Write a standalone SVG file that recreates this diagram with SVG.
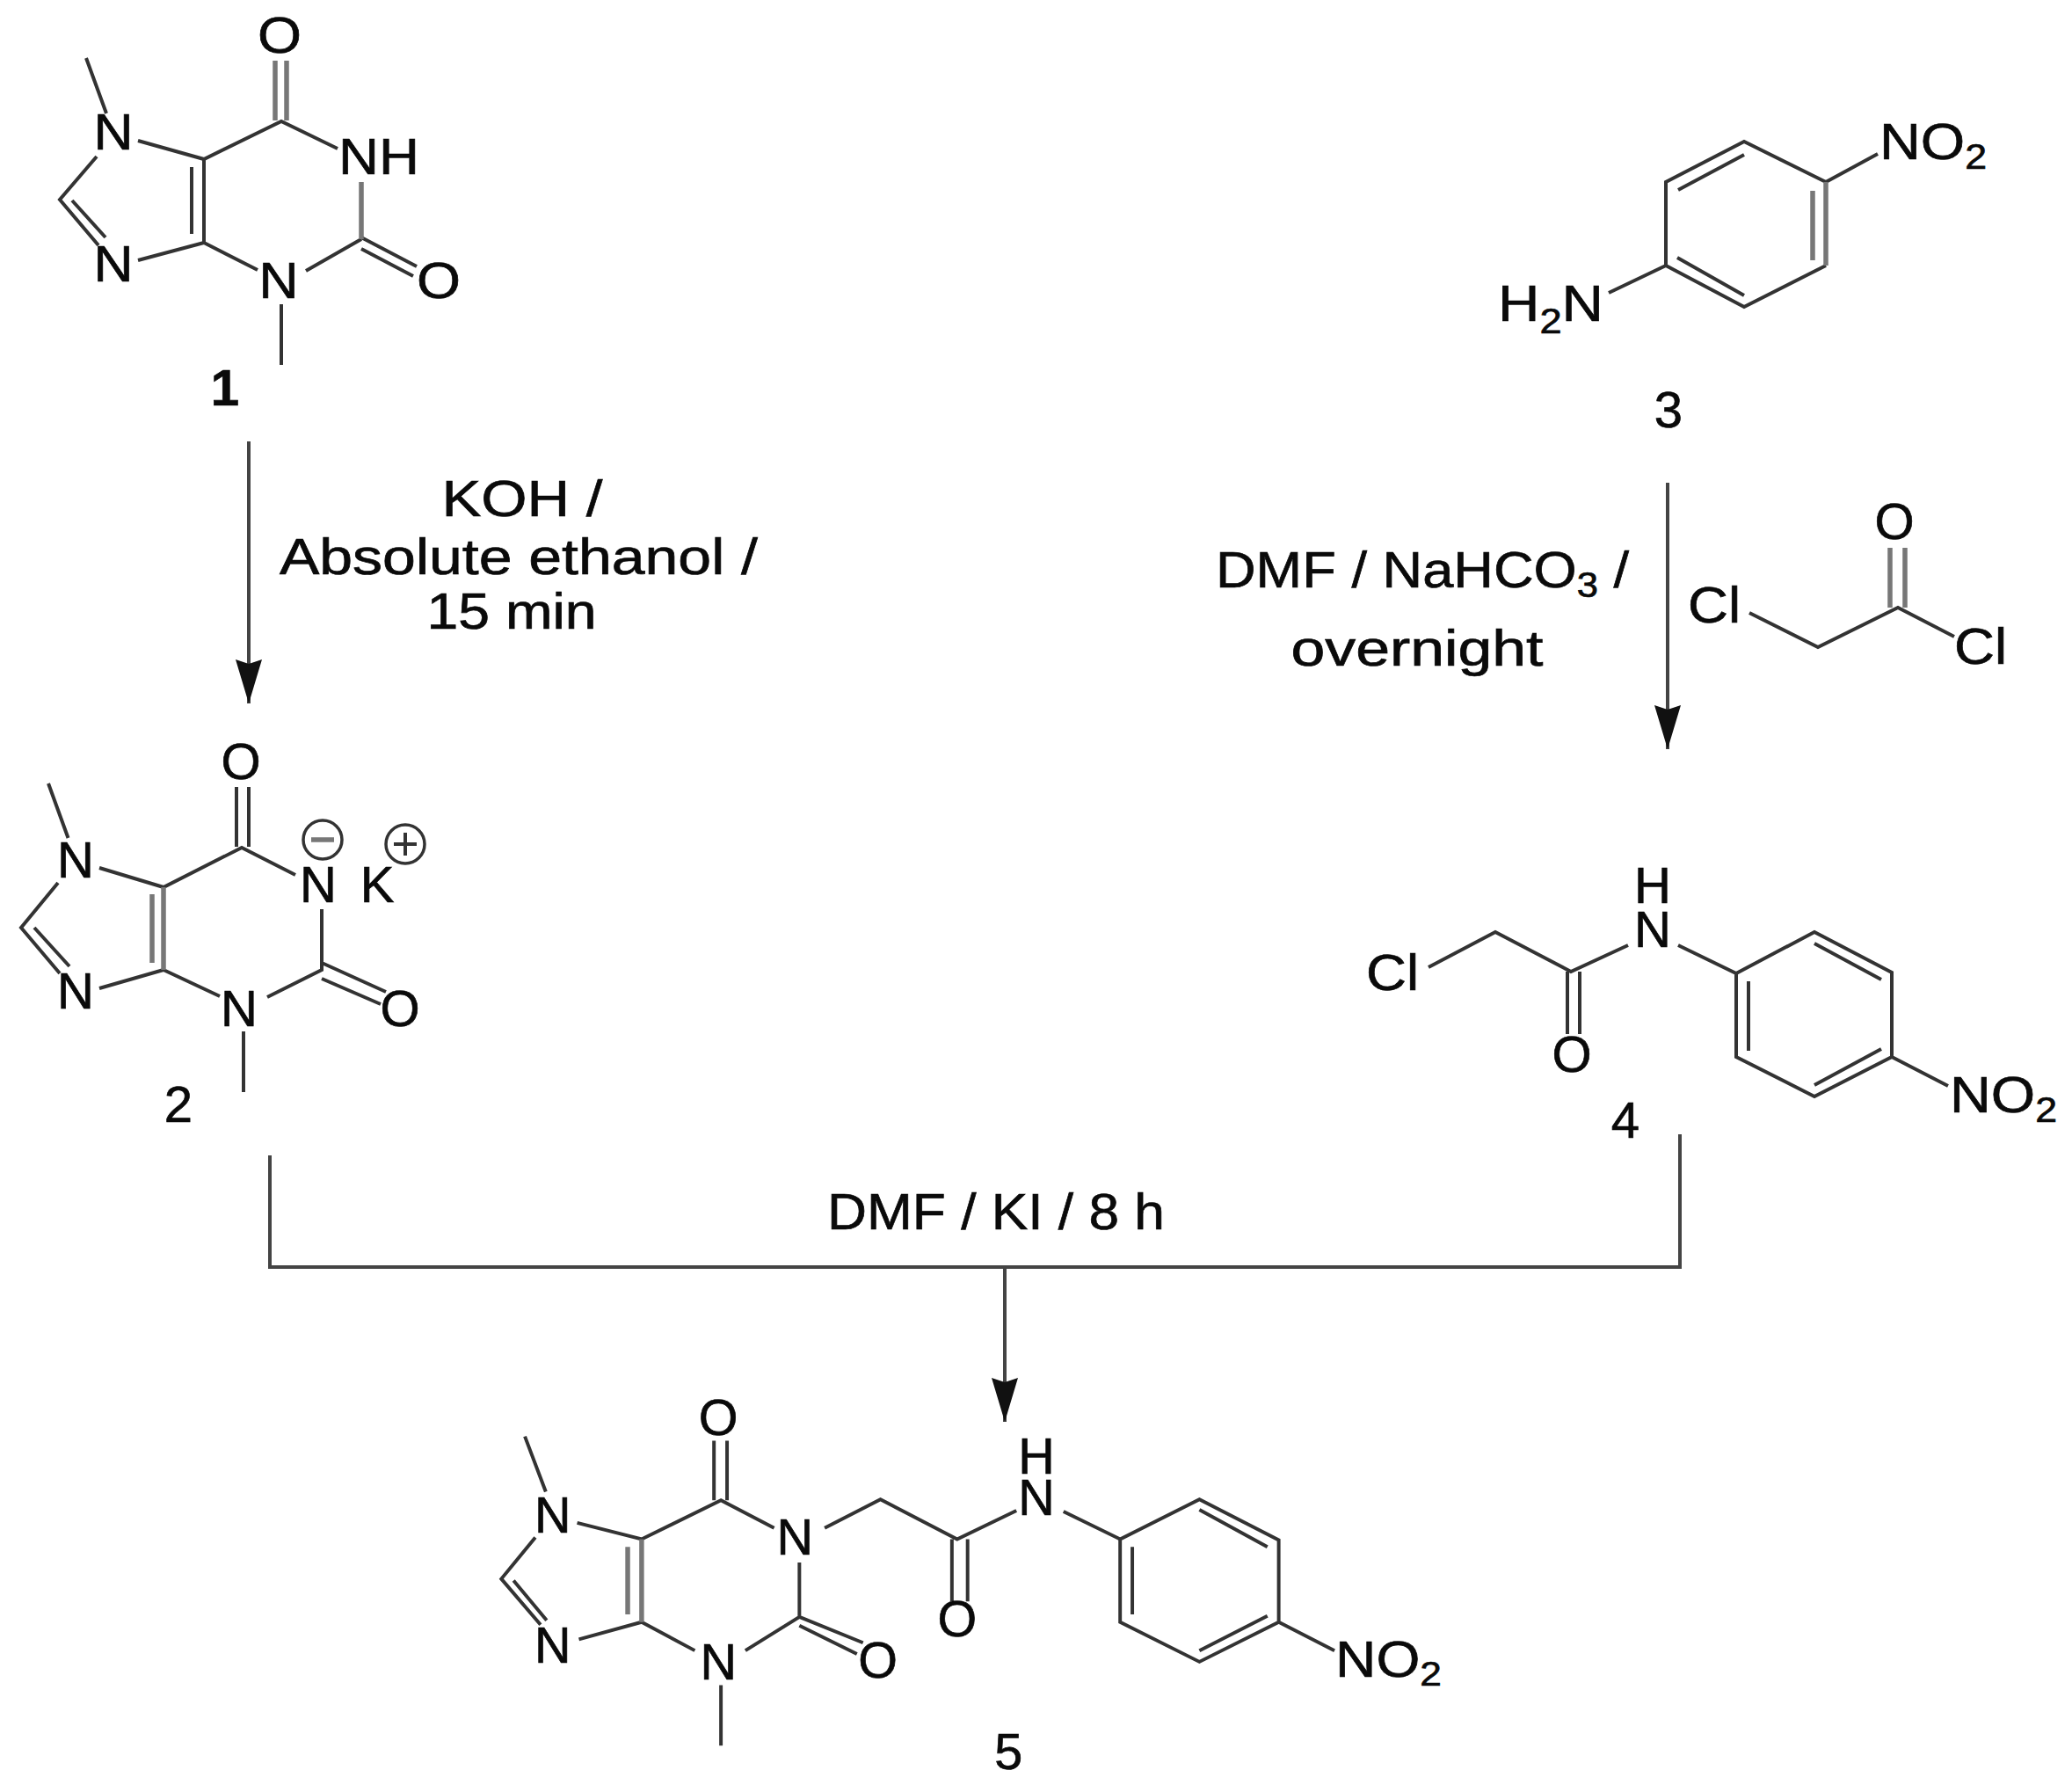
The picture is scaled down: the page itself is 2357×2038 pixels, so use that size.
<svg xmlns="http://www.w3.org/2000/svg" width="2357" height="2038" viewBox="0 0 2357 2038">
<style>
text{font-family:"Liberation Sans",Arial,sans-serif;fill:#0a0a0a;font-size:58px;stroke:#0a0a0a;stroke-width:.7}
.m{text-anchor:middle}
.sub{font-size:40px}
path{fill:none;stroke:#333;stroke-width:4;stroke-linejoin:miter}
.g{stroke:#777;stroke-width:5.500}
.c{stroke:#444;stroke-width:4}
circle{fill:none;stroke:#333;stroke-width:3.500}
</style>
<defs>
<marker id="ah" markerUnits="userSpaceOnUse" markerWidth="50" markerHeight="30" refX="50" refY="15" viewBox="0 0 50 30" orient="auto" overflow="visible"><path d="M0 0L5 15L0 30L50 15Z" style="fill:#111;stroke:none"/></marker>
</defs>
<rect width="2357" height="2038" fill="#fff"/>
<g id="connectors">
<path class="c" d="M283 502V800" marker-end="url(#ah)"/>
<path class="c" d="M1897 549V852" marker-end="url(#ah)"/>
<path class="c" d="M307 1314V1441H1911V1290"/>
<path class="c" d="M1143 1441V1617" marker-end="url(#ah)"/>
</g>
<g id="conditions">
<text class="m" x="594" y="587" textLength="183" lengthAdjust="spacingAndGlyphs">KOH /</text>
<text class="m" x="590" y="653" textLength="544" lengthAdjust="spacingAndGlyphs">Absolute ethanol /</text>
<text class="m" x="582" y="715" textLength="193" lengthAdjust="spacingAndGlyphs">15 min</text>
<text x="1383" y="668" textLength="470" lengthAdjust="spacingAndGlyphs">DMF / NaHCO<tspan class="sub" dy="11">3</tspan><tspan dy="-11"> /</tspan></text>
<text class="m" x="1612" y="757" textLength="287" lengthAdjust="spacingAndGlyphs">overnight</text>
<text class="m" x="1133" y="1398" textLength="384" lengthAdjust="spacingAndGlyphs">DMF / KI / 8 h</text>
</g>
<g id="compound-1">
<path d="M98 66L121 129M157 160L232 181L320 138L384 169M232 276L293 307M232 276L157 296M110 178L68 227L112 279M82 228L120 270M218 190V266M232 181V276M411 272L348 308M320 346V415M411 270L474 303M411 283L470 314"/>
<path class="g" d="M313 69V137M326 69V137M411 207V272"/>
<text class="m" x="318" y="60" textLength="50" lengthAdjust="spacingAndGlyphs">O</text>
<text class="m" x="129" y="170" textLength="45" lengthAdjust="spacingAndGlyphs">N</text>
<text class="m" x="431" y="198" textLength="92" lengthAdjust="spacingAndGlyphs">NH</text>
<text class="m" x="129" y="320" textLength="45" lengthAdjust="spacingAndGlyphs">N</text>
<text class="m" x="317" y="339" textLength="45" lengthAdjust="spacingAndGlyphs">N</text>
<text class="m" x="499" y="339" textLength="50" lengthAdjust="spacingAndGlyphs">O</text>
<text class="m" x="256" y="461" font-weight="bold">1</text>
</g>
<g id="compound-2" transform="translate(0,-6)">
<path d="M55 897L77.500 959M113 993L186 1015L275 970L336 1001M186 1109L250 1139M186 1109L113 1130M66 1010L24 1061L68 1113M39 1061L79 1105M366 1040V1109L304 1140M277 1179V1248M366 1101L439 1134M366 1119L433 1148M269 901V969M283 901V969"/>
<path class="g" d="M186 1015V1109M173 1023V1101"/>
<text class="m" x="274" y="892">O</text>
<text class="m" x="86" y="1004">N</text>
<text class="m" x="362" y="1032">N</text>
<text class="m" x="429" y="1032">K</text>
<text class="m" x="86" y="1153">N</text>
<text class="m" x="272" y="1173">N</text>
<text class="m" x="455" y="1173">O</text>
<circle cx="367" cy="961" r="22"/><path class="g" d="M354 961H380"/>
<circle cx="461" cy="966" r="22"/><path d="M448 966H474M461 953V979"/>
<text class="m" x="203" y="1282">2</text>
</g>
<g id="compound-3">
<path d="M1895 302V207L1984 161L2077 207M2077 302L1984 349L1895 302M1909 216L1984 176M1908 293L1984 336M2077 207L2136 175M1895 302L1830 333"/>
<path class="g" d="M2077 207V302M2062 217V296"/>
<text x="2138" y="181" textLength="122" lengthAdjust="spacingAndGlyphs">NO<tspan class="sub" dy="11">2</tspan></text>
<text x="1704" y="365" textLength="120" lengthAdjust="spacingAndGlyphs">H<tspan class="sub" dy="14">2</tspan><tspan dy="-14">N</tspan></text>
<text class="m" x="1898" y="486">3</text>
</g>
<g id="reagent">
<path d="M1990 697L2068 736L2159 691L2223 724"/>
<path class="g" d="M2150 623V691M2167 623V691"/>
<text class="m" x="2155" y="613">O</text>
<text class="m" x="1950" y="708" textLength="60" lengthAdjust="spacingAndGlyphs">Cl</text>
<text class="m" x="2253" y="755" textLength="60" lengthAdjust="spacingAndGlyphs">Cl</text>
</g>
<g id="compound-4">
<path d="M1625 1100L1701 1060L1787 1105L1852 1075M1909 1075L1975 1107L2064 1060L2152 1106V1202L2064 1247L1975 1202V1107M2064 1073L2140 1114M1989 1116V1195M2140 1193L2064 1234M2152 1202L2216 1235M1783 1105V1176M1797 1105V1176"/>
<text class="m"><tspan x="1880" y="1027">H</tspan><tspan x="1880" y="1077">N</tspan></text>
<text class="m" x="1584" y="1126" textLength="60" lengthAdjust="spacingAndGlyphs">Cl</text>
<text class="m" x="1788" y="1219">O</text>
<text x="2218" y="1265" textLength="122" lengthAdjust="spacingAndGlyphs">NO<tspan class="sub" dy="11">2</tspan></text>
<text class="m" x="1849" y="1294">4</text>
</g>
<g id="compound-5" transform="matrix(.9914 0 0 .982 4.200 30)">
<path d="M598 1633L622 1697M658 1733L732 1752L823 1707L884 1739M942 1739L1006 1706L1094 1752L1162 1719M1216 1720L1281 1752L1372 1706L1463 1753V1848L1372 1894L1281 1848V1752M1372 1718L1450 1761M1295 1761V1839M1450 1841L1372 1881M1463 1848L1527 1881M913 1779V1842L851 1881M913 1842L986 1872M913 1852L979 1885M823 1921V1991M732 1848L793 1881M732 1848L660 1868M610 1750L571 1798L616 1851M585 1800L623 1846M815 1638V1707M830 1638V1707M1088 1752V1824M1106 1752V1824"/>
<path class="g" d="M732 1752V1848M716 1761V1839"/>
<text class="m" x="820" y="1631">O</text>
<text class="m" x="630" y="1744">N</text>
<text class="m" x="908" y="1770">N</text>
<text class="m"><tspan x="1185" y="1676">H</tspan><tspan x="1185" y="1724">N</tspan></text>
<text class="m" x="1094" y="1865">O</text>
<text class="m" x="630" y="1895">N</text>
<text class="m" x="820" y="1914">N</text>
<text class="m" x="1003" y="1912">O</text>
<text x="1528" y="1911" textLength="122" lengthAdjust="spacingAndGlyphs">NO<tspan class="sub" dy="11">2</tspan></text>
<text class="m" x="1153" y="2018">5</text>
</g>
</svg>
